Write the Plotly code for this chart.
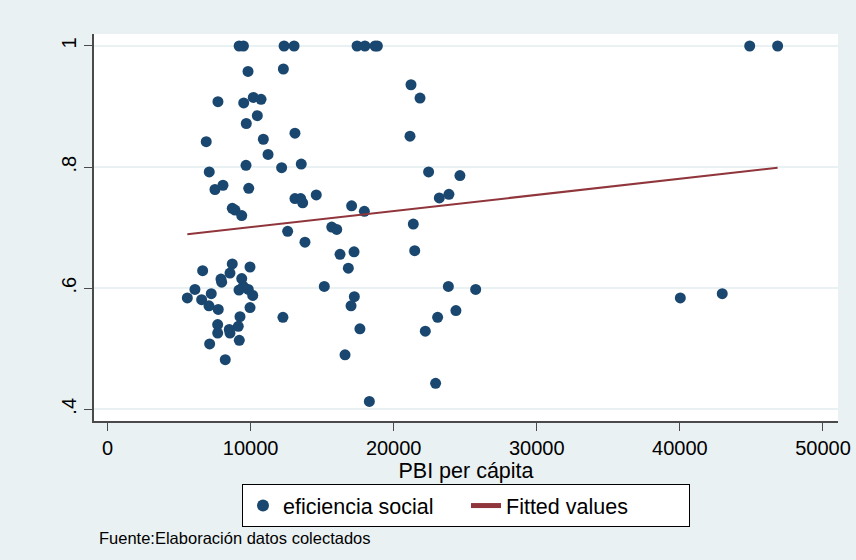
import plotly.graph_objects as go

# PBI per cápita (x) and eficiencia social (y) for each observation
pbi = [
    9200, 9500, 12340, 13040, 17440, 17990, 18700, 18860, 44880, 46830,
    9820, 12290, 7720, 9520, 10190, 10730, 10470, 9700, 6900, 10890,
    13100, 11220, 9680, 7110, 12170, 13540, 8070, 7510, 9870, 13100,
    13500, 13640, 14590, 8720, 8910, 9380, 17060, 17950, 21210, 21840,
    21140, 22440, 24630, 23190, 23860,
    12590, 13800, 15670, 16020, 16250, 17230, 16830, 15150, 17250, 17020,
    12260, 17640, 16600, 18300, 21370, 21470, 23820, 25730, 23070, 24350,
    22210, 22930, 40030, 42960,
    6650, 8720, 9960, 8560, 7930, 7980, 9380, 6110, 7250, 9190,
    9490, 9840, 10150, 5580, 6580, 7090, 7740, 9960, 9260, 7700,
    7700, 9140, 8510, 8560, 7140, 9210, 8230,
]
eficiencia = [
    1.0, 1.0, 1.0, 1.0, 1.0, 1.0, 1.0, 1.0, 1.0, 1.0,
    0.958, 0.962, 0.908, 0.906, 0.915, 0.912, 0.885, 0.872, 0.842, 0.846,
    0.856, 0.821, 0.803, 0.792, 0.799, 0.805, 0.770, 0.763, 0.765, 0.748,
    0.748, 0.741, 0.754, 0.732, 0.729, 0.720, 0.736, 0.727, 0.936, 0.914,
    0.851, 0.792, 0.786, 0.749, 0.755,
    0.694, 0.676, 0.701, 0.697, 0.656, 0.660, 0.633, 0.603, 0.586, 0.571,
    0.552, 0.533, 0.490, 0.413, 0.706, 0.662, 0.603, 0.598, 0.552, 0.563,
    0.529, 0.443, 0.584, 0.591,
    0.629, 0.640, 0.635, 0.625, 0.615, 0.610, 0.616, 0.598, 0.591, 0.597,
    0.603, 0.598, 0.588, 0.584, 0.581, 0.571, 0.565, 0.568, 0.553, 0.540,
    0.526, 0.537, 0.532, 0.526, 0.508, 0.514, 0.482,
]

# Linear fit drawn between the smallest and largest PBI
fit_x = [min(pbi), max(pbi)]
fit_y = [0.689, 0.799]

x_ticks = [0, 10000, 20000, 30000, 40000, 50000]
x_tick_labels = ["0", "10000", "20000", "30000", "40000", "50000"]
y_ticks = [0.4, 0.6, 0.8, 1.0]
y_tick_labels = [".4", ".6", ".8", "1"]

BG = "#eaf1f3"
NAVY = "#1a476f"
MAROON = "#90353b"
AXIS = "#4a4a4a"
FONT = "Liberation Sans, Arial, sans-serif"

fig = go.Figure()
fig.add_trace(go.Scatter(
    x=pbi, y=eficiencia, mode="markers", name="eficiencia social",
    marker=dict(color=NAVY, size=11, line=dict(width=0)),
))
fig.add_trace(go.Scatter(
    x=fit_x, y=fit_y, mode="lines", name="Fitted values",
    line=dict(color=MAROON, width=2),
))

fig.update_layout(
    width=856, height=560,
    paper_bgcolor=BG, plot_bgcolor="white",
    margin=dict(l=94, r=18, t=34, b=139),
    font=dict(family=FONT, size=20, color="black"),
    showlegend=True,
    legend=dict(
        orientation="h", x=0.5, xanchor="center", y=-0.163, yanchor="top",
        bgcolor="white", bordercolor="black", borderwidth=1,
        font=dict(size=21.5), entrywidth=178, itemsizing="constant",
    ),
    annotations=[dict(
        text="Fuente:Elaboración datos colectados",
        xref="paper", yref="paper", x=0.004, y=-0.302,
        xanchor="left", yanchor="middle", showarrow=False,
        font=dict(size=16.5, color="black"),
    )],
)

fig.update_xaxes(
    range=[-943, 51050], tickvals=x_ticks, ticktext=x_tick_labels,
    automargin=False,
    showgrid=False, zeroline=False,
    showline=True, linecolor=AXIS, linewidth=1.5,
    ticks="outside", ticklen=8, tickcolor=AXIS, tickwidth=1,
    title=dict(text="PBI per cápita", font=dict(size=21.5), standoff=0),
)
fig.update_yaxes(
    range=[0.3807, 1.0198], tickvals=y_ticks, ticktext=y_tick_labels,
    tickangle=-90, automargin=False,
    showgrid=True, gridcolor=BG, gridwidth=2, zeroline=False,
    showline=True, linecolor=AXIS, linewidth=1.5,
    ticks="outside", ticklen=8, tickcolor=AXIS, tickwidth=1,
)

fig.write_html("out.html")
